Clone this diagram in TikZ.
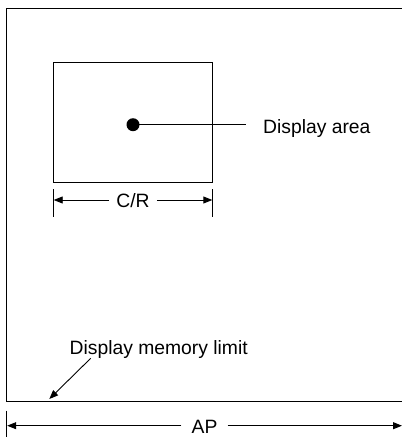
\documentclass[tikz,border=0pt]{standalone}
\usepackage{fontspec}
\setmainfont{Liberation Sans}
\usetikzlibrary{arrows.meta}
\begin{document}
\begin{tikzpicture}[x=1pt,y=-1pt,
  ln/.style={line width=0.9pt,black},
  arr/.style={ln,-{Triangle[length=9pt,width=7pt]}},
  lbl/.style={inner sep=0pt,font=\fontsize{19.3}{23}\selectfont},
  dimlbl/.style={lbl,inner xsep=7pt}]
\useasboundingbox (0,0) rectangle (402,437);
% outer display memory (right edge cut off)
\draw[ln,line width=1pt] (402,8.3) -- (6.7,8.3) -- (6.7,401) -- (402,401);
% display area box
\node[draw,line width=0.9pt,minimum width=158.6pt,minimum height=119.6pt,inner sep=0pt] (disp) at (133,122.5) {};
\node[circle,fill=black,minimum size=13pt,inner sep=0pt] (dot) at (133,124.7) {};
\coordinate (dotend) at (246,124.7);
\draw[ln] (dot.center) -- (dotend);
\node[lbl,anchor=base west] (dalbl) at (263,133.3) {Display area};
% C/R dimension
\coordinate (crl) at (53.7,200);
\coordinate (crr) at (212.3,200);
\draw[ln] (53.7,189) coordinate (crlt) -- (53.7,216.7) coordinate (crlb);
\draw[ln] (212.3,189) coordinate (crrt) -- (212.3,216.7) coordinate (crrb);
\node[dimlbl,anchor=base] (cr) at (133,207.3) {C/R};
\draw[arr] (cr.west |- crl) -- (crl);
\draw[arr] (cr.east |- crr) -- (crr);
% display memory limit
\node[lbl,anchor=base west] (dml) at (69.5,354) {Display memory limit};
\coordinate (dmls) at (90.7,358.3);
\coordinate (dmlt) at (49.3,399);
\draw[arr] (dmls) -- (dmlt);
% AP dimension
\draw[ln] (6.7,410.7) -- (6.7,437);
\coordinate (apl) at (7.2,425.7);
\coordinate (apr) at (402,425.7);
\node[lbl,inner xsep=10pt,anchor=base] (ap) at (204.5,433.3) {AP};
\draw[arr] (ap.west |- apl) -- (apl);
\draw[arr] (ap.east |- apr) -- (apr);
\end{tikzpicture}
\end{document}
